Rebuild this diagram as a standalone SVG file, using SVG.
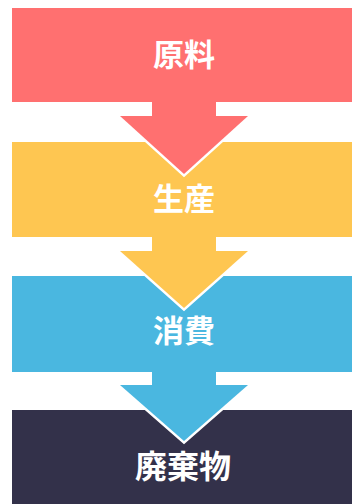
<svg xmlns="http://www.w3.org/2000/svg" width="352" height="504" viewBox="0 0 352 504">
  <style>
    .lbl { font-family: "Noto Sans CJK JP", "Noto Sans", sans-serif; font-weight: bold; fill: #ffffff; text-anchor: middle; }
    .head { stroke: #ffffff; stroke-width: 5; paint-order: stroke; stroke-linejoin: miter; }
    .red { fill: #FF7070; }
    .yellow { fill: #FEC651; }
    .blue { fill: #4AB7E0; }
    .dark { fill: #33314A; }
  </style>
  <rect x="0" y="0" width="352" height="504" fill="#ffffff"/>
  <g id="node-genryo">
    <rect class="red" x="12" y="8" width="340" height="94"/>
  </g>
  <g id="node-seisan">
    <rect class="yellow" x="12" y="142" width="340" height="95"/>
  </g>
  <g id="node-shohi">
    <rect class="blue" x="12" y="276" width="340" height="96"/>
  </g>
  <g id="node-haikibutsu">
    <rect class="dark" x="12" y="410" width="340" height="94"/>
  </g>
  <g id="connectors">
    <polygon class="red head" points="120,116 248,116 184,174"/>
    <rect class="red" x="152" y="100" width="64" height="18"/>
    <polygon class="yellow head" points="120,251 248,251 184,308"/>
    <rect class="yellow" x="152" y="235" width="64" height="18"/>
    <polygon class="blue head" points="120,385 248,385 184,441"/>
    <rect class="blue" x="152" y="370" width="64" height="17"/>
  </g>
  <g id="labels">
    <text class="lbl" x="184" y="66" font-size="31">原料</text>
    <text class="lbl" x="184" y="210" font-size="31">生産</text>
    <text class="lbl" x="184" y="342" font-size="31">消費</text>
    <text class="lbl" x="183" y="478" font-size="32">廃棄物</text>
  </g>
</svg>
